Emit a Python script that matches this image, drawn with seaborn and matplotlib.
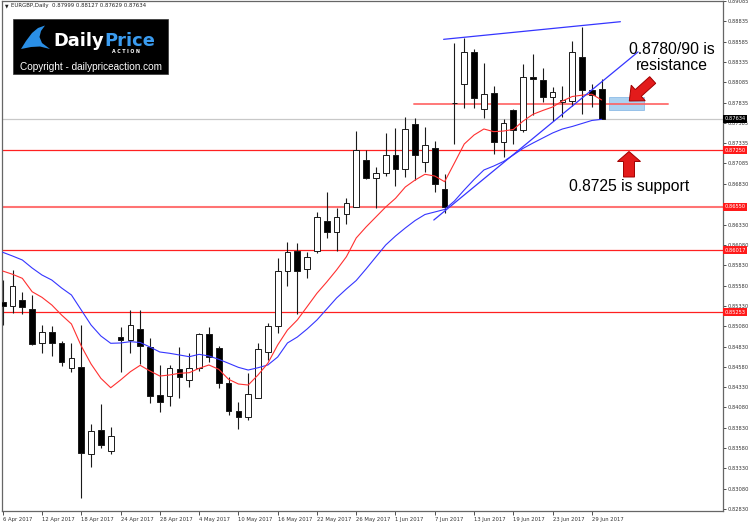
import matplotlib
matplotlib.use("Agg")
import matplotlib.pyplot as plt
import numpy as np
import pandas as pd
import seaborn as sns
from matplotlib.patches import Rectangle, FancyArrow, Polygon
from matplotlib.transforms import blended_transform_factory, IdentityTransform

sns.set_style("white")
plt.rcParams['font.family'] = ['DejaVu Sans']

# ---------------- data ----------------
dates = pd.bdate_range("2017-04-06", "2017-06-30")

opens = [0.85382, 0.85333, 0.85403, 0.85292, 0.84870, 0.85005, 0.84870, 0.84562, 0.84574, 0.83503,
         0.83799, 0.83547, 0.84951, 0.84911, 0.85050, 0.84821, 0.84230, 0.84225, 0.84557, 0.84418,
         0.84562, 0.84981, 0.84816, 0.84385, 0.84040, 0.83966, 0.84200, 0.84766, 0.85087, 0.85760,
         0.86010, 0.85781, 0.86010, 0.86376, 0.86237, 0.86458, 0.86545, 0.87127, 0.86902, 0.86963,
         0.87189, 0.87012, 0.87567, 0.87106, 0.87271, 0.86766, 0.87829, 0.88063, 0.88461, 0.87755,
         0.87948, 0.87345, 0.87743, 0.87497, 0.88145, 0.88112, 0.87899, 0.87838, 0.87854, 0.88399,
         0.87989, 0.87999]
highs = [0.85649, 0.85773, 0.85505, 0.85465, 0.85095, 0.85083, 0.84898, 0.84870, 0.85095, 0.83876,
         0.84122, 0.83843, 0.85067, 0.85280, 0.85280, 0.84931, 0.84603, 0.84603, 0.84821, 0.84747,
         0.84997, 0.85067, 0.84837, 0.84451, 0.84151, 0.84501, 0.84870, 0.85124, 0.85924, 0.86121,
         0.86101, 0.85998, 0.86483, 0.86729, 0.86532, 0.86655, 0.87484, 0.87250, 0.87037, 0.87456,
         0.87517, 0.87653, 0.87641, 0.87530, 0.87365, 0.86955, 0.88564, 0.88626, 0.88490, 0.88318,
         0.88042, 0.87632, 0.87755, 0.88309, 0.88432, 0.88256, 0.88030, 0.88042, 0.88592, 0.88769,
         0.88063, 0.88127]
lows = [0.85095, 0.85243, 0.85231, 0.84849, 0.84750, 0.84717, 0.84594, 0.84520, 0.82961, 0.83350,
        0.83577, 0.83503, 0.84513, 0.84754, 0.84615, 0.84131, 0.84028, 0.84098, 0.84200, 0.84336,
        0.84532, 0.84643, 0.84316, 0.83987, 0.83811, 0.83925, 0.84195, 0.84664, 0.85000, 0.85576,
        0.85231, 0.85670, 0.85986, 0.86163, 0.86010, 0.86335, 0.86545, 0.86889, 0.86532, 0.86934,
        0.86811, 0.86921, 0.86881, 0.86983, 0.86737, 0.86478, 0.87320, 0.87764, 0.87771, 0.87641,
        0.87197, 0.87168, 0.87324, 0.87476, 0.87681, 0.87838, 0.87607, 0.87653, 0.87796, 0.87690,
        0.87783, 0.87629]
closes = [0.85333, 0.85579, 0.85313, 0.84861, 0.85005, 0.84870, 0.84636, 0.84685, 0.83523, 0.83794,
          0.83618, 0.83732, 0.84911, 0.85095, 0.84837, 0.84225, 0.84147, 0.84562, 0.84459, 0.84562,
          0.84984, 0.84705, 0.84385, 0.84040, 0.83966, 0.84246, 0.84800, 0.85087, 0.85760, 0.85998,
          0.85760, 0.85929, 0.86421, 0.86237, 0.86429, 0.86594, 0.87250, 0.86902, 0.86963, 0.87189,
          0.87016, 0.87505, 0.87189, 0.87312, 0.86828, 0.86545, 0.87823, 0.88461, 0.87887, 0.87936,
          0.87345, 0.87579, 0.87497, 0.88145, 0.88125, 0.87899, 0.87968, 0.87866, 0.88453, 0.87989,
          0.87927, 0.87634]
ma_fast = [0.85760, 0.85720, 0.85670, 0.85505, 0.85436, 0.85342, 0.85218, 0.85108, 0.84837, 0.84615,
           0.84439, 0.84323, 0.84418, 0.84520, 0.84599, 0.84529, 0.84467, 0.84480, 0.84501, 0.84508,
           0.84562, 0.84603, 0.84550, 0.84427, 0.84369, 0.84356, 0.84480, 0.84624, 0.84849, 0.85034,
           0.85157, 0.85321, 0.85486, 0.85625, 0.85773, 0.85936, 0.86167, 0.86302, 0.86425, 0.86548,
           0.86655, 0.86795, 0.86881, 0.86951, 0.86930, 0.86860, 0.87090, 0.87324, 0.87435, 0.87509,
           0.87476, 0.87484, 0.87503, 0.87607, 0.87690, 0.87737, 0.87780, 0.87854, 0.87909, 0.87925,
           0.87937, 0.87866]
ma_slow = [0.85991, 0.85945, 0.85896, 0.85797, 0.85711, 0.85649, 0.85551, 0.85465, 0.85280, 0.85095,
           0.84960, 0.84870, 0.84874, 0.84890, 0.84880, 0.84824, 0.84763, 0.84747, 0.84726, 0.84705,
           0.84734, 0.84714, 0.84673, 0.84624, 0.84574, 0.84541, 0.84569, 0.84603, 0.84701, 0.84874,
           0.84947, 0.85046, 0.85157, 0.85292, 0.85428, 0.85539, 0.85643, 0.85785, 0.85933, 0.86080,
           0.86191, 0.86290, 0.86382, 0.86456, 0.86487, 0.86518, 0.86622, 0.86758, 0.86887, 0.87004,
           0.87053, 0.87109, 0.87189, 0.87271, 0.87336, 0.87398, 0.87460, 0.87509, 0.87540, 0.87577,
           0.87614, 0.87628]

ytick_values = [0.89085, 0.88835, 0.88585, 0.88335, 0.88085, 0.87835, 0.87585, 0.87335, 0.87085,
                0.86830, 0.86330, 0.86080, 0.85830, 0.85580, 0.85330, 0.85080, 0.84830,
                0.84580, 0.84330, 0.84080, 0.83830, 0.83580, 0.83330, 0.83080, 0.82830]
xtick_labels = ["6 Apr 2017", "12 Apr 2017", "18 Apr 2017", "24 Apr 2017", "28 Apr 2017",
                "4 May 2017", "10 May 2017", "16 May 2017", "22 May 2017", "26 May 2017",
                "1 Jun 2017", "7 Jun 2017", "13 Jun 2017", "19 Jun 2017", "23 Jun 2017", "29 Jun 2017"]
support_levels = [0.87250, 0.86550, 0.86017, 0.85253]
current_price = 0.87634
resistance_level = 0.87820
resistance_zone = [0.87743, 0.87899]
upper_trend = [(44.9, 0.88613), (62.9, 0.88830)]
rising_trend = [(43.9, 0.86388), (64.7, 0.88458)]
header = "EURGBP,Daily  0.87999 0.88127 0.87629 0.87634"

# ---------------- figure ----------------
W, H = 750, 524
fig = plt.figure(figsize=(W / 100, H / 100), dpi=100, facecolor="white")
ax = fig.add_axes([2 / W, 1 - 511 / H, 721 / W, 510 / H])
ax.set_facecolor("white")

idx = np.arange(len(opens))
o, h, l, c = map(np.array, (opens, highs, lows, closes))
up = c > o

# horizontal levels
for lv in support_levels:
    if abs(lv - 0.86550) < 1e-6:
        ax.axhline(lv, color="#ff5a5a", lw=1.5, alpha=0.85, zorder=1)
    else:
        ax.axhline(lv, color="#ff2020", lw=0.9, zorder=1)
ax.axhline(current_price, color="#c8c8c8", lw=0.9, zorder=1)

# resistance zone and line
ax.add_patch(Rectangle((61.7, resistance_zone[0]), 3.6, resistance_zone[1] - resistance_zone[0],
                       facecolor="#9fcaee", edgecolor="#80b4e4", lw=0.6, alpha=0.85, zorder=1))
ax.plot([41.9, 67.7], [resistance_level, resistance_level], color="#ff6060", lw=1.4, alpha=0.85, zorder=1)

# candles
ax.vlines(idx, l, h, color="#1a1a1a", lw=0.8, zorder=2)
body_h = np.maximum(np.abs(c - o), 0.00003)
ax.bar(idx, body_h, bottom=np.minimum(o, c), width=0.58,
       color=np.where(up, "white", "black"), edgecolor="#1a1a1a", linewidth=0.7, zorder=3)

# moving averages (seaborn)
df = pd.DataFrame({"idx": idx, "date": dates, "fast": ma_fast, "slow": ma_slow})
sns.lineplot(data=df, x="idx", y="slow", ax=ax, color="#3535ff", lw=0.8, zorder=4)
sns.lineplot(data=df, x="idx", y="fast", ax=ax, color="#ff3030", lw=0.8, zorder=4)

# trend lines
ax.plot(*zip(*upper_trend), color="#3535ff", lw=0.9, zorder=4)
ax.plot(*zip(*rising_trend), color="#3535ff", lw=0.9, zorder=4)

ax.set_xlim(-0.07, 73.35)
ax.set_ylim(0.82805, 0.89085)
ax.set_xlabel("")
ax.set_ylabel("")

# axes / ticks
for sp in ax.spines.values():
    sp.set_visible(True)
    sp.set_color("#666666")
    sp.set_linewidth(0.9)
ax.yaxis.tick_right()
ax.set_yticks(ytick_values)
ax.set_yticklabels([f"{v:.5f}" for v in ytick_values])
ax.set_xticks(np.arange(0, len(opens), 4))
ax.set_xticklabels(xtick_labels)
for t in ax.get_xticklabels():
    t.set_horizontalalignment("left")
ax.tick_params(axis="y", right=True, left=False, length=2.5, width=0.6, pad=1.0,
               labelsize=3.7, colors="#333333")
ax.tick_params(axis="x", bottom=True, length=3, width=0.6, pad=1.0,
               labelsize=3.8, colors="#333333")

# price boxes on axis
tr = blended_transform_factory(ax.transAxes, ax.transData)
for v, col in [(current_price, "black")] + [(lv, "#ff1a1a") for lv in support_levels]:
    ax.text(1.0 + 1.5 / 721, v, f"{v:.5f}", transform=tr, ha="left", va="center",
            fontsize=3.7, color="white", clip_on=False, zorder=10,
            bbox=dict(boxstyle="square,pad=0.3", fc=col, ec="none"))

def fp(x, y):
    return (x / W, 1 - y / H)

# header
fig.text(*fp(5, 6), "\u25bc", fontsize=3.3, color="#222222", va="center", ha="left")
fig.text(*fp(11, 6), header, fontsize=3.9, color="#222222", va="center", ha="left")

# logo
fig.add_artist(Rectangle(fp(13.3, 74), 155 / W, 55 / H, transform=fig.transFigure,
                         facecolor="black", edgecolor="#333333", lw=0.5))
swoosh = [(21, 49), (26, 41), (32, 33), (38, 28), (45, 25.5), (41, 31), (39.5, 37), (42, 43),
          (50, 49), (40, 46.5), (31, 47)]
fig.add_artist(Polygon([fp(x, y) for x, y in swoosh], closed=True, transform=fig.transFigure,
                       facecolor="#2a8fe6", edgecolor="none"))
fig.text(*fp(53.5, 46.5), "Daily", fontsize=12.9, fontweight="bold", color="white", va="baseline")
fig.text(*fp(104, 46.5), "Price", fontsize=12.9, fontweight="bold", color="#3b9cf0", va="baseline")
fig.text(*fp(126, 51.5), "A C T I O N", fontsize=3.4, fontweight="bold", color="white",
         va="center", ha="center")
fig.text(*fp(20, 66.7), "Copyright - dailypriceaction.com", fontsize=7.2, color="white",
         va="center", ha="left", family="Liberation Sans")

# annotations
fig.text(*fp(672, 49), "0.8780/90 is", fontsize=11.3, color="black", ha="center", va="center",
         family="Liberation Sans")
fig.text(*fp(672, 65.5), "resistance", fontsize=11.3, color="black", ha="center", va="center",
         family="Liberation Sans")
fig.text(*fp(629.5, 187), "0.8725 is support", fontsize=11.3, color="black", ha="center",
         va="center", family="Liberation Sans")

# arrows (display pixels)
a1 = FancyArrow(652.7, H - 80, -23.4, -21, width=9, head_width=21, head_length=12,
                length_includes_head=True, facecolor="#e31b1b", edgecolor="#a00000", lw=0.7,
                transform=IdentityTransform())
a2 = FancyArrow(629, H - 177, 0, 25.5, width=11, head_width=23, head_length=10,
                length_includes_head=True, facecolor="#e31b1b", edgecolor="#a00000", lw=0.7,
                transform=IdentityTransform())
fig.add_artist(a1)
fig.add_artist(a2)

fig.savefig("out.png", dpi=100, facecolor="white")
